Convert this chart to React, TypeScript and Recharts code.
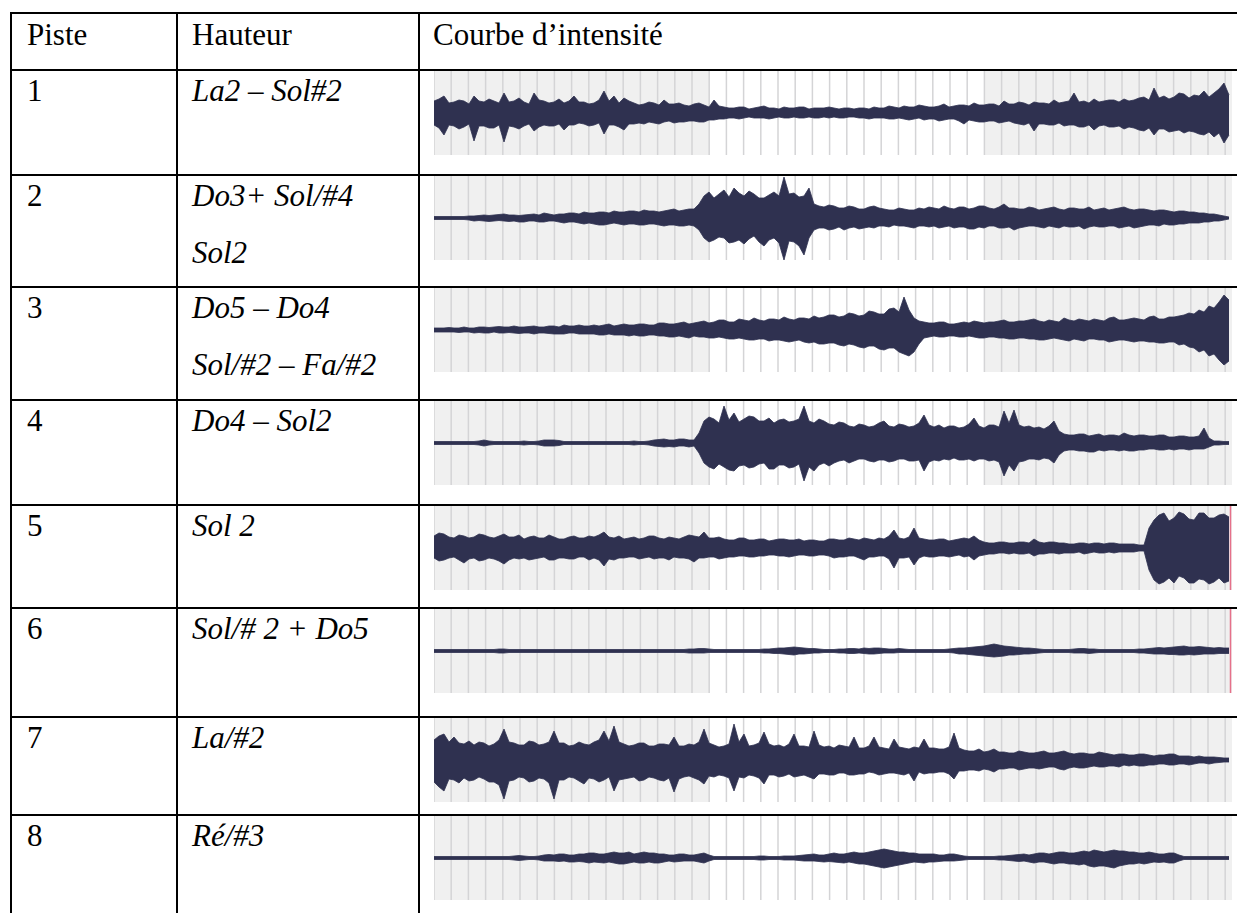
import { AreaChart, Area, XAxis, YAxis, ReferenceArea, ReferenceLine } from "recharts";

// ---- table text ----
const HEADERS = ["Piste", "Hauteur", "Courbe d’intensité"];
const PISTES = ["1", "2", "3", "4", "5", "6", "7", "8"];
const HAUTEURS: string[][] = [
    ["La2 – Sol#2"],
    ["Do3+ Sol/#4", "Sol2"],
    ["Do5 – Do4", "Sol/#2 – Fa/#2"],
    ["Do4 – Sol2"],
    ["Sol 2"],
    ["Sol/# 2 + Do5"],
    ["La/#2"],
    ["Ré/#3"],
];

// ---- waveform envelopes: px above / below the centre line, one value every ~5px ----
const track1Upper = [
    12, 14, 17, 10, 11, 13, 12, 9, 17, 12, 11, 14, 12, 10, 20, 11, 12, 15, 11, 9,
    20, 13, 12, 10, 11, 14, 10, 12, 17, 11, 11, 9, 10, 13, 22, 12, 17, 10, 15, 12,
    10, 8, 9, 11, 10, 8, 13, 9, 9, 10, 8, 7, 9, 10, 8, 6, 13, 7, 6, 5,
    5, 6, 6, 4, 5, 6, 7, 5, 5, 4, 6, 5, 5, 6, 6, 4, 5, 5, 5, 6,
    5, 4, 5, 5, 4, 5, 5, 4, 6, 5, 5, 7, 6, 5, 7, 6, 6, 8, 7, 6,
    6, 7, 9, 6, 7, 8, 8, 7, 10, 8, 8, 9, 9, 7, 12, 9, 9, 11, 10, 8,
    11, 10, 10, 9, 13, 10, 11, 12, 20, 11, 12, 10, 14, 11, 12, 13, 13, 11, 14, 12,
    13, 15, 16, 13, 25, 15, 17, 14, 16, 20, 19, 15, 18, 17, 22, 16, 20, 24, 30, 18,
];
const track1Lower = [
    12, 15, 22, 12, 13, 16, 14, 11, 28, 13, 13, 15, 15, 12, 29, 13, 14, 16, 13, 11,
    18, 14, 12, 13, 13, 11, 17, 12, 12, 10, 11, 13, 12, 10, 21, 12, 12, 14, 17, 11,
    11, 10, 11, 9, 10, 11, 9, 8, 10, 9, 9, 8, 8, 9, 9, 7, 7, 6, 6, 5,
    5, 6, 5, 4, 5, 5, 5, 6, 5, 4, 5, 5, 4, 5, 5, 4, 5, 5, 4, 5,
    4, 5, 5, 4, 4, 5, 5, 6, 5, 5, 5, 6, 6, 5, 6, 7, 6, 5, 7, 6,
    6, 8, 7, 6, 6, 8, 11, 7, 8, 9, 9, 8, 8, 10, 9, 8, 10, 11, 12, 10,
    18, 11, 11, 12, 12, 10, 13, 12, 12, 14, 14, 12, 17, 13, 12, 14, 14, 13, 16, 14,
    15, 17, 18, 15, 22, 16, 16, 19, 18, 17, 20, 18, 19, 21, 22, 19, 24, 20, 30, 22,
];

const track2Upper = [
    1.5, 1.5, 1.5, 1.5, 1.5, 1.5, 1.5, 2, 2, 2.5, 3, 2.5, 3, 3.5, 4, 3, 3, 2.5, 3, 3.5,
    4, 3, 5, 4, 3, 4, 4, 5, 5, 4, 6, 5, 5, 6, 6, 5, 7, 6, 6, 7,
    7, 6, 8, 7, 7, 6, 7, 8, 9, 7, 8, 9, 9, 14, 22, 26, 20, 24, 28, 21,
    30, 25, 22, 27, 24, 20, 20, 23, 26, 22, 41, 24, 25, 21, 22, 30, 14, 12, 11, 13,
    12, 10, 10, 12, 11, 9, 9, 11, 12, 10, 9, 8, 8, 10, 9, 8, 8, 10, 9, 11,
    10, 9, 12, 10, 9, 11, 11, 9, 10, 12, 12, 10, 9, 11, 14, 10, 10, 9, 9, 11,
    10, 8, 9, 10, 11, 9, 8, 10, 10, 9, 9, 11, 8, 9, 10, 8, 9, 10, 11, 9,
    8, 9, 9, 8, 7, 8, 8, 7, 6, 7, 7, 6, 6, 5, 5, 4, 4, 3, 2, 1,
];
const track2Lower = [
    1.5, 1.5, 1.5, 1.5, 1.5, 1.5, 1.5, 2, 3, 2.5, 3, 3.5, 3, 2.5, 3, 3.5, 3, 4, 4, 3,
    3, 4, 4, 3, 3, 4, 5, 4, 4, 5, 6, 5, 6, 7, 7, 6, 5, 6, 7, 6,
    6, 7, 7, 6, 6, 7, 8, 7, 7, 8, 8, 7, 8, 12, 20, 24, 22, 19, 20, 25,
    24, 22, 26, 21, 18, 24, 28, 22, 20, 25, 42, 23, 24, 28, 37, 20, 12, 10, 10, 12,
    11, 9, 12, 10, 9, 11, 10, 9, 10, 8, 8, 9, 7, 8, 8, 9, 10, 8, 8, 9,
    8, 10, 9, 8, 10, 9, 9, 11, 11, 9, 10, 8, 8, 10, 10, 9, 12, 10, 9, 8,
    8, 9, 10, 8, 9, 10, 8, 9, 9, 8, 11, 9, 8, 9, 9, 8, 8, 10, 9, 8,
    10, 9, 8, 7, 7, 8, 6, 7, 7, 6, 6, 5, 5, 5, 4, 4, 3, 3, 2, 1,
];

const track3Upper = [
    2, 2, 2, 2.5, 2, 2, 3, 2, 2, 3, 3, 2.5, 3, 3.5, 3, 3, 4, 3, 3, 3.5,
    4, 3, 3, 4, 4, 3, 5, 4, 4, 5, 4, 4, 5, 4, 5, 6, 4, 5, 6, 5,
    5, 6, 6, 5, 5, 7, 7, 6, 6, 7, 8, 6, 7, 8, 9, 7, 8, 10, 10, 8,
    8, 11, 10, 9, 12, 10, 9, 11, 11, 10, 13, 11, 10, 12, 12, 11, 14, 12, 13, 15,
    15, 13, 14, 17, 16, 14, 15, 19, 18, 16, 16, 21, 22, 18, 33, 20, 12, 9, 8, 7,
    7, 8, 8, 6, 6, 7, 8, 7, 9, 8, 7, 8, 8, 9, 10, 8, 8, 9, 9, 10,
    11, 9, 8, 10, 9, 8, 12, 10, 9, 11, 10, 9, 11, 10, 9, 12, 13, 10, 10, 11,
    12, 11, 10, 13, 14, 11, 11, 13, 13, 14, 15, 17, 16, 20, 18, 24, 22, 28, 35, 30,
];
const track3Lower = [
    2, 2, 2, 2, 2, 2.5, 2, 2, 3, 2.5, 3, 3, 2, 3, 3, 2.5, 3, 3.5, 3, 3,
    4, 3, 3, 3.5, 4, 4, 4, 3, 3, 4, 4, 4, 4, 5, 5, 4, 5, 5, 5, 6,
    5, 6, 6, 5, 5, 6, 6, 7, 7, 6, 7, 8, 6, 7, 7, 8, 8, 7, 8, 9,
    9, 8, 9, 10, 10, 9, 9, 11, 10, 10, 11, 12, 11, 10, 12, 13, 12, 14, 14, 13,
    13, 15, 16, 14, 15, 17, 18, 16, 16, 19, 20, 18, 18, 22, 24, 26, 22, 14, 8, 7,
    6, 7, 7, 6, 6, 7, 7, 6, 7, 8, 8, 7, 7, 8, 8, 9, 9, 8, 8, 9,
    9, 10, 10, 9, 8, 9, 10, 11, 9, 10, 11, 9, 9, 10, 10, 12, 11, 10, 10, 11,
    12, 11, 11, 12, 12, 13, 13, 12, 12, 15, 14, 17, 18, 22, 20, 26, 24, 30, 35, 31,
];

const track4Upper = [
    1.5, 1.5, 1.5, 1.5, 1.5, 1.5, 1.5, 1.5, 1.5, 2, 3, 2, 1.5, 1.5, 1.5, 1.5, 1.5, 1.5, 2, 1.5,
    1.5, 2, 3, 3, 3, 2.5, 1.5, 1.5, 1.5, 1.5, 1.5, 1.5, 1.5, 1.5, 1.5, 1.5, 1.5, 1.5, 1.5, 1.5,
    2, 1.5, 1.5, 2, 3, 3.5, 4, 3, 3, 4, 4, 3, 3, 10, 22, 26, 24, 20, 37, 23,
    30, 21, 24, 27, 26, 22, 22, 25, 20, 23, 24, 21, 22, 24, 37, 22, 20, 24, 22, 19,
    18, 21, 20, 17, 16, 19, 18, 16, 17, 20, 22, 17, 16, 19, 18, 16, 17, 20, 28, 18,
    16, 18, 15, 17, 17, 15, 16, 19, 25, 17, 15, 18, 18, 16, 32, 20, 33, 18, 16, 17,
    15, 16, 14, 17, 22, 12, 9, 8, 8, 9, 9, 7, 8, 9, 7, 8, 8, 7, 10, 8,
    7, 8, 8, 7, 7, 8, 8, 6, 6, 7, 7, 6, 6, 7, 15, 5, 2, 2, 1.5, 1.5,
];
const track4Lower = [
    1.5, 1.5, 1.5, 1.5, 1.5, 1.5, 1.5, 1.5, 1.5, 2, 3, 2, 1.5, 1.5, 1.5, 1.5, 1.5, 1.5, 2, 1.5,
    1.5, 2, 3, 3, 3, 2.5, 1.5, 1.5, 1.5, 1.5, 1.5, 1.5, 1.5, 1.5, 1.5, 1.5, 1.5, 1.5, 1.5, 1.5,
    2, 1.5, 1.5, 2, 3, 3.5, 4, 3.5, 4, 3, 3, 4, 3, 10, 20, 24, 26, 21, 24, 27,
    28, 23, 22, 25, 24, 21, 20, 26, 26, 22, 22, 25, 24, 21, 38, 24, 28, 22, 20, 23,
    20, 18, 17, 20, 18, 16, 16, 18, 19, 17, 17, 19, 18, 16, 16, 18, 18, 17, 28, 19,
    17, 18, 16, 17, 15, 17, 17, 16, 18, 16, 16, 18, 17, 19, 33, 22, 28, 19, 18, 16,
    16, 17, 15, 16, 20, 12, 8, 7, 7, 8, 8, 9, 9, 7, 8, 7, 7, 8, 7, 8,
    8, 7, 7, 6, 6, 7, 7, 6, 7, 6, 6, 7, 6, 6, 6, 4, 2, 2, 1.5, 1.5,
];

const track5Upper = [
    12, 15, 14, 11, 10, 13, 12, 10, 11, 14, 13, 11, 10, 12, 14, 11, 11, 13, 9, 11,
    12, 10, 10, 13, 11, 9, 9, 11, 12, 10, 10, 12, 11, 13, 16, 11, 10, 12, 9, 10,
    11, 9, 10, 12, 12, 10, 9, 11, 10, 9, 11, 13, 12, 11, 16, 10, 10, 11, 9, 8,
    8, 10, 10, 8, 8, 9, 9, 7, 8, 9, 9, 8, 8, 9, 7, 8, 8, 7, 7, 9,
    9, 8, 8, 10, 9, 8, 10, 9, 8, 10, 9, 12, 18, 10, 9, 11, 20, 10, 9, 8,
    8, 9, 9, 7, 8, 9, 10, 9, 12, 8, 6, 5, 5, 6, 6, 5, 5, 6, 6, 5,
    9, 6, 5, 6, 6, 5, 5, 4, 4, 5, 5, 4, 5, 5, 4, 5, 5, 4, 4, 4,
    4, 3, 3, 20, 28, 33, 35, 27, 30, 36, 34, 29, 28, 35, 35, 30, 30, 33, 34, 31,
];
const track5Lower = [
    10, 13, 12, 10, 9, 12, 15, 11, 10, 13, 12, 10, 11, 13, 16, 12, 10, 11, 10, 12,
    11, 10, 9, 12, 12, 10, 10, 11, 11, 9, 9, 12, 10, 12, 18, 11, 12, 10, 10, 9,
    9, 11, 10, 9, 11, 10, 10, 12, 9, 10, 10, 11, 14, 10, 10, 9, 9, 11, 10, 9,
    9, 8, 8, 9, 9, 8, 8, 7, 7, 8, 8, 9, 8, 7, 7, 8, 8, 7, 7, 8,
    10, 9, 9, 8, 8, 10, 12, 9, 9, 8, 8, 11, 20, 10, 10, 9, 17, 10, 8, 9,
    9, 8, 8, 9, 8, 7, 9, 8, 12, 8, 7, 6, 6, 5, 5, 6, 5, 6, 6, 5,
    8, 6, 6, 5, 5, 6, 5, 5, 5, 4, 6, 5, 4, 5, 5, 4, 5, 4, 4, 4,
    4, 3, 3, 22, 32, 36, 34, 30, 35, 28, 30, 35, 35, 31, 32, 36, 34, 30, 35, 33,
];

const track6Upper = [
    1.5, 1.5, 1.5, 1.5, 1.5, 1.5, 1.5, 1.5, 1.5, 1.5, 1.5, 1.5, 1.5, 2, 2, 1.5, 1.5, 1.5, 1.5, 1.5,
    1.5, 1.5, 1.5, 1.5, 1.5, 1.5, 1.5, 1.5, 1.5, 1.5, 1.5, 1.5, 1.5, 1.5, 1.5, 1.5, 1.5, 1.5, 1.5, 1.5,
    1.5, 1.5, 1.5, 1.5, 1.5, 1.5, 1.5, 1.5, 1.5, 1.5, 1.5, 2, 2, 2.5, 2.5, 2, 1.5, 1.5, 1.5, 1.5,
    1.5, 1.5, 1.5, 1.5, 1.5, 1.5, 2, 2, 2.5, 3, 3, 3.5, 4, 3.5, 3, 2.5, 2.5, 2, 1.5, 1.5,
    1.5, 2, 2, 2.5, 2.5, 2, 3, 2.5, 3, 3, 2.5, 2, 2, 2.5, 2, 1.5, 1.5, 1.5, 1.5, 1.5,
    1.5, 1.5, 1.5, 2, 2.5, 3, 3, 3.5, 4, 4.5, 5, 6, 7, 6, 5, 4.5, 4, 3.5, 3, 3,
    2.5, 2, 1.5, 1.5, 1.5, 1.5, 1.5, 1.5, 2, 2.5, 2.5, 2, 2, 1.5, 1.5, 1.5, 1.5, 1.5, 1.5, 1.5,
    1.5, 2, 2, 2.5, 3, 3.5, 3, 3.5, 4, 4.5, 5, 4, 4, 4.5, 4, 3.5, 3, 3.5, 3, 3,
];
const track6Lower = [
    1.5, 1.5, 1.5, 1.5, 1.5, 1.5, 1.5, 1.5, 1.5, 1.5, 1.5, 1.5, 1.5, 2, 2, 1.5, 1.5, 1.5, 1.5, 1.5,
    1.5, 1.5, 1.5, 1.5, 1.5, 1.5, 1.5, 1.5, 1.5, 1.5, 1.5, 1.5, 1.5, 1.5, 1.5, 1.5, 1.5, 1.5, 1.5, 1.5,
    1.5, 1.5, 1.5, 1.5, 1.5, 1.5, 1.5, 1.5, 1.5, 1.5, 1.5, 2, 2, 2, 2, 1.5, 1.5, 1.5, 1.5, 1.5,
    1.5, 1.5, 1.5, 1.5, 1.5, 1.5, 2, 2, 2.5, 2.5, 3, 3.5, 4, 3, 3, 2.5, 2, 2, 1.5, 1.5,
    1.5, 2, 2, 2.5, 2.5, 2, 2.5, 3, 3, 2.5, 2, 2, 2, 1.5, 1.5, 1.5, 1.5, 1.5, 1.5, 1.5,
    1.5, 1.5, 1.5, 1.5, 2, 3, 3, 3.5, 4, 4.5, 5, 5.5, 6, 5.5, 5, 4, 4, 3.5, 3, 3,
    2.5, 2, 1.5, 1.5, 1.5, 1.5, 1.5, 1.5, 2, 2, 2, 2.5, 2, 1.5, 1.5, 1.5, 1.5, 1.5, 1.5, 1.5,
    1.5, 2, 2, 2.5, 3, 3, 3, 3.5, 3.5, 4, 4, 3.5, 4, 3.5, 3, 3, 3, 2.5, 2.5, 2.5,
];

const track7Upper = [
    20, 24, 26, 18, 23, 17, 16, 19, 15, 18, 17, 14, 16, 20, 31, 18, 17, 15, 15, 19,
    18, 15, 16, 18, 29, 17, 17, 14, 15, 18, 16, 15, 18, 20, 29, 19, 34, 18, 16, 14,
    15, 17, 17, 14, 14, 16, 16, 15, 23, 14, 14, 16, 15, 18, 31, 17, 15, 13, 14, 16,
    36, 18, 26, 14, 15, 17, 28, 16, 14, 15, 13, 16, 26, 14, 14, 13, 29, 15, 13, 14,
    12, 15, 14, 13, 23, 12, 12, 14, 23, 13, 12, 11, 21, 13, 12, 11, 13, 12, 21, 12,
    12, 11, 11, 13, 27, 12, 10, 9, 9, 11, 8, 9, 11, 8, 8, 7, 7, 9, 8, 7,
    7, 8, 9, 7, 7, 8, 9, 7, 6, 7, 7, 6, 6, 8, 7, 6, 5, 6, 6, 5,
    5, 6, 6, 5, 4, 5, 5, 6, 6, 4, 4, 4, 3, 4, 3, 3, 3, 2.5, 2, 2,
];
const track7Lower = [
    22, 27, 31, 19, 20, 23, 18, 21, 20, 17, 19, 22, 22, 25, 39, 21, 20, 17, 18, 22,
    21, 18, 19, 23, 39, 20, 20, 17, 18, 21, 24, 18, 19, 22, 20, 17, 31, 20, 19, 18,
    17, 21, 20, 17, 18, 20, 21, 18, 32, 19, 17, 16, 18, 20, 24, 16, 17, 15, 16, 18,
    31, 17, 18, 15, 16, 18, 24, 15, 15, 17, 16, 14, 17, 16, 15, 17, 19, 14, 14, 15,
    15, 13, 13, 15, 15, 14, 14, 12, 13, 15, 14, 13, 13, 14, 15, 13, 21, 12, 14, 13,
    13, 12, 12, 14, 19, 11, 11, 10, 10, 11, 9, 10, 12, 9, 9, 8, 8, 10, 9, 8,
    8, 9, 8, 7, 7, 9, 10, 8, 7, 8, 8, 7, 6, 7, 7, 6, 6, 7, 5, 6,
    5, 6, 6, 5, 5, 4, 4, 5, 5, 4, 4, 5, 4, 3, 3, 4, 3, 2.5, 2, 2,
];

const track8Upper = [
    1.5, 1.5, 1.5, 1.5, 1.5, 1.5, 1.5, 1.5, 1.5, 1.5, 1.5, 1.5, 1.5, 1.5, 1.5, 1.5, 2, 2.5, 2, 1.5,
    1.5, 2, 3, 3.5, 3, 4, 4, 3, 3, 4, 4, 5, 5, 4, 4, 5, 6, 5, 5, 6,
    4, 5, 6, 5, 5, 4, 4, 3, 3, 4, 4, 3, 3, 4, 5, 3, 1.5, 1.5, 1.5, 1.5,
    1.5, 1.5, 1.5, 1.5, 1.5, 2, 2, 1.5, 1.5, 1.5, 2, 2, 2, 2.5, 3, 3.5, 4, 3, 3, 4,
    5, 4, 4, 5, 6, 5, 5, 6, 7, 8, 9, 8, 7, 6, 6, 5, 5, 4, 4, 4,
    4, 3, 3, 4, 4, 3, 2, 1.5, 1.5, 1.5, 1.5, 1.5, 1.5, 2, 2, 2.5, 3, 3.5, 4, 3,
    4, 5, 5, 4, 5, 6, 6, 5, 5, 6, 7, 6, 8, 7, 6, 7, 8, 7, 7, 6,
    6, 5, 5, 6, 5, 4, 4, 5, 5, 3, 1.5, 1.5, 1.5, 1.5, 1.5, 1.5, 1.5, 1.5, 1.5, 1.5,
];
const track8Lower = [
    1.5, 1.5, 1.5, 1.5, 1.5, 1.5, 1.5, 1.5, 1.5, 1.5, 1.5, 1.5, 1.5, 1.5, 1.5, 1.5, 2, 2.5, 2, 1.5,
    1.5, 2, 3, 3, 3, 3.5, 3, 4, 4, 3.5, 4, 5, 4, 4.5, 5, 4, 5, 6, 6, 5,
    4, 5, 5, 4, 5, 5, 4, 3, 4, 3.5, 3, 3, 3, 4, 5, 3, 1.5, 1.5, 1.5, 1.5,
    1.5, 1.5, 1.5, 1.5, 1.5, 2, 2, 1.5, 1.5, 1.5, 2, 2, 2, 2.5, 3, 3, 3, 3.5, 4, 3.5,
    4, 4.5, 5, 4, 5, 6, 6, 7, 8, 9, 10, 9, 8, 7, 6, 5, 4, 4.5, 5, 4,
    4, 3.5, 3, 3, 3, 2.5, 2, 1.5, 1.5, 1.5, 1.5, 1.5, 1.5, 2, 2, 2.5, 3, 3.5, 3, 4,
    5, 4, 4, 5, 6, 5, 5, 6, 6, 7, 6, 8, 9, 8, 8, 9, 10, 8, 7, 6,
    6, 5, 6, 5, 4, 4.5, 4, 5, 5, 3, 1.5, 1.5, 1.5, 1.5, 1.5, 1.5, 1.5, 1.5, 1.5, 1.5,
];

const UPPER = [track1Upper, track2Upper, track3Upper, track4Upper, track5Upper, track6Upper, track7Upper, track8Upper];
const LOWER = [track1Lower, track2Lower, track3Lower, track4Lower, track5Lower, track6Lower, track7Lower, track8Lower];
const END_MARKER = [false, false, false, false, true, true, false, false];

// ---- layout ----
const FONT = '"Liberation Serif", "Times New Roman", serif';
const FONT_SIZE = 31;
const ROW_LINES = [13, 70, 175, 287, 400, 505, 608, 717, 815];
const COL_LINES = [11, 177, 419];
const TEXT_X = [27, 192, 433];
const WAVE_X = 434;
const WAVE_W = 798;
const WAVE_H = 84;
const WAVE_COLOR = "#2f3150";
const X_MAX = 159.6; // 798px / 5px per sample
const GRID_STEP = 3.44; // ~17px between the editor's gridlines
const GRID = Array.from({ length: 47 }, (_, k) => k * GRID_STEP);

function Waveform({ upper, lower, marker }: { upper: number[]; lower: number[]; marker: boolean }) {
    const data = upper.map((u, i) => ({ i, range: [-lower[i], u] }));
    return (
        <AreaChart width={WAVE_W} height={WAVE_H} data={data} margin={{ top: 0, right: 0, bottom: 0, left: 0 }}>
            <XAxis type="number" dataKey="i" domain={[0, X_MAX]} hide />
            <YAxis type="number" domain={[-42, 42]} hide />
            <ReferenceArea x1={0} x2={16 * GRID_STEP} fill="#f0f0f0" fillOpacity={1} stroke="none" zIndex={-20} />
            <ReferenceArea x1={32 * GRID_STEP} x2={X_MAX} fill="#f0f0f0" fillOpacity={1} stroke="none" zIndex={-20} />
            {GRID.map((g) => (
                <ReferenceLine key={g} x={g} stroke="#d4d4d6" strokeWidth={1.5} zIndex={-10} />
            ))}
            <Area
                type="linear"
                dataKey="range"
                stroke={WAVE_COLOR}
                strokeWidth={0.8}
                fill={WAVE_COLOR}
                fillOpacity={1}
                dot={false}
                activeDot={false}
                isAnimationActive={false}
            />
            {marker && <ReferenceLine x={X_MAX - 0.3} stroke="#e6708a" strokeWidth={1.5} />}
        </AreaChart>
    );
}

const textStyle = {
    position: "absolute" as const,
    fontSize: FONT_SIZE,
    lineHeight: `${FONT_SIZE}px`,
    whiteSpace: "nowrap" as const,
};

export default function App() {
    return (
        <div
            style={{
                position: "absolute", left: 0, top: 0, width: 1237, height: 913,
                overflow: "hidden", background: "#fff", fontFamily: FONT, color: "#000",
            }}
        >
            {PISTES.map((p, r) => {
                const top = ROW_LINES[r + 1];
                return (
                    <div key={p}>
                        <div style={{ ...textStyle, left: TEXT_X[0], top: top + 5 }}>{p}</div>
                        {HAUTEURS[r].map((h, k) => (
                            <div key={h} style={{ ...textStyle, left: TEXT_X[1], top: top + 5 + k * 57, fontStyle: "italic" }}>{h}</div>
                        ))}
                        <div style={{ position: "absolute", left: WAVE_X, top: top + 1 }}>
                            <Waveform upper={UPPER[r]} lower={LOWER[r]} marker={END_MARKER[r]} />
                        </div>
                    </div>
                );
            })}
            {HEADERS.map((h, c) => (
                <div key={h} style={{ ...textStyle, left: TEXT_X[c], top: ROW_LINES[0] + 6 }}>{h}</div>
            ))}
            {ROW_LINES.map((y) => (
                <div key={y} style={{ position: "absolute", left: 10, top: y - 1, width: 1227, height: 2, background: "#000" }} />
            ))}
            {COL_LINES.map((x) => (
                <div key={x} style={{ position: "absolute", left: x - 1, top: ROW_LINES[0] - 1, width: 2, height: 913, background: "#000" }} />
            ))}
        </div>
    );
}
